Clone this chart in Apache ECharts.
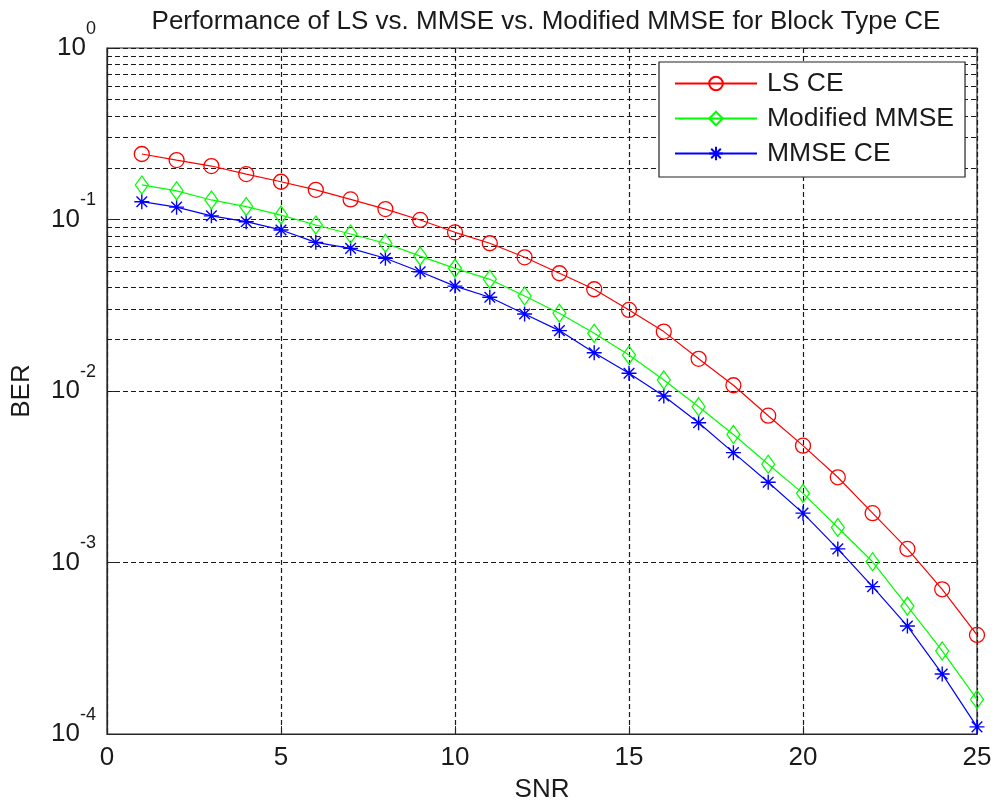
<!DOCTYPE html>
<html>
<head>
<meta charset="utf-8">
<script src="https://cdn.jsdelivr.net/npm/echarts@6/dist/echarts.min.js"></script>
<style>
html,body{margin:0;padding:0;background:#fff;}
#chart{width:995px;height:806px;}
</style>
</head>
<body>
<div id="chart"></div>
<script>
const titleText = 'Performance of LS vs. MMSE vs. Modified MMSE for Block Type CE';
const xName = 'SNR';
const yName = 'BER';
const snr = [1,2,3,4,5,6,7,8,9,10,11,12,13,14,15,16,17,18,19,20,21,22,23,24,25];
const lsCE = [0.241,0.222,0.205,0.184,0.166,0.149,0.131,0.115,0.0994,0.0842,0.0727,0.0602,0.0486,0.0392,0.0297,0.0222,0.0154,0.0108,0.00718,0.00480,0.00314,0.00194,0.00120,0.000698,0.000378];
const modMMSE = [0.159,0.147,0.130,0.119,0.106,0.0929,0.0823,0.0727,0.0612,0.0519,0.0448,0.0358,0.0284,0.0217,0.0162,0.0116,0.00810,0.00558,0.00374,0.00253,0.00160,0.00101,0.000557,0.000305,0.000159];
const mmseCE = [0.127,0.118,0.105,0.0971,0.0869,0.0736,0.0679,0.0594,0.0496,0.0409,0.0352,0.0281,0.0225,0.0167,0.0127,0.00935,0.00653,0.00437,0.00294,0.00194,0.00120,0.000723,0.000426,0.000224,0.000110];
const seriesNames = ['LS CE','Modified MMSE','MMSE CE'];
const yDecadeExponents = [-4,-3,-2,-1,0];
const minorMultipliers = [2,3,4,5,6,7,8,9];

const minorGrid = [];
yDecadeExponents.slice(0,4).forEach(e => minorMultipliers.forEach(m => minorGrid.push(+(m*Math.pow(10,e)).toPrecision(3))));

const asterisk = 'path://M0,-10L0,10M-10,0L10,0M-7.07,-7.07L7.07,7.07M-7.07,7.07L7.07,-7.07';
const gridDash = {color:'#1a1a1a', width:1.2, type:[5,3]};
const font = "'Liberation Sans', Arial, sans-serif";
const txt = '#1a1a1a';

const chart = echarts.init(document.getElementById('chart'), null, {renderer:'canvas'});
chart.setOption({
  backgroundColor:'#fff',
  animation:false,
  title:{text:titleText, left:541, textAlign:'center', top:4,
    textStyle:{fontFamily:font, fontSize:26, fontWeight:'normal', color:txt}},
  grid:{left:107, right:18, top:48, bottom:72, show:true, borderColor:'#262626', borderWidth:1.2, backgroundColor:'#fff',
    containLabel:false, outerBoundsMode:'none'},
  legend:{
    orient:'vertical', left:659, top:62, z:20,
    padding:[8,11,10,15],
    itemWidth:82, itemHeight:17, itemGap:8,
    borderColor:'#222', borderWidth:1.2, backgroundColor:'#fff',
    textStyle:{fontFamily:font, fontSize:26.5, color:txt, lineHeight:27, padding:[0,0,0,5]},
    data:seriesNames
  },
  xAxis:{
    type:'value', min:0, max:25, interval:5,
    name:xName, nameLocation:'middle', nameGap:43,
    nameTextStyle:{fontFamily:font, fontSize:26, color:txt},
    axisLine:{lineStyle:{color:'#262626', width:1.2}},
    axisTick:{inside:true, length:8, lineStyle:{color:'#262626'}},
    axisLabel:{fontFamily:font, fontSize:26, color:txt, margin:11},
    splitLine:{show:true, lineStyle:gridDash}
  },
  yAxis:{
    type:'log', logBase:10, min:1e-4, max:1,
    name:yName, nameLocation:'middle', nameGap:72, nameRotate:90,
    nameTextStyle:{fontFamily:font, fontSize:26, color:txt},
    axisLine:{lineStyle:{color:'#262626', width:1.2}},
    axisTick:{inside:true, length:8, lineStyle:{color:'#262626'}},
    axisLabel:{
      margin:11,
      formatter:function(v){ const e = Math.round(Math.log10(v)); return '{b|10}{s|' + e + '}'; },
      rich:{
        b:{fontFamily:font, fontSize:26, color:txt, lineHeight:56, verticalAlign:'middle'},
        s:{fontFamily:font, fontSize:18, color:txt, lineHeight:20, verticalAlign:'top'}
      }
    },
    splitLine:{show:true, lineStyle:gridDash}
  },
  series:[
    {
      name:seriesNames[0], type:'line', data:snr.map((x,i)=>[x,lsCE[i]]),
      color:'#ff0000',
      symbol:'circle', symbolSize:15,
      lineStyle:{color:'#ff0000', width:1.2},
      itemStyle:{color:'rgba(0,0,0,0)', borderColor:'#ff0000', borderWidth:1.3},
      markLine:{silent:true, symbol:'none', label:{show:false},
        lineStyle:gridDash, emphasis:{disabled:true}, z:1,
        data:minorGrid.map(v=>({yAxis:v}))},
      z:5
    },
    {
      name:seriesNames[1], type:'line', data:snr.map((x,i)=>[x,modMMSE[i]]),
      color:'#00ff00',
      symbol:'diamond', symbolSize:[13,18],
      lineStyle:{color:'#00ff00', width:1.2},
      itemStyle:{color:'rgba(0,0,0,0)', borderColor:'#00ff00', borderWidth:1.3},
      z:4
    },
    {
      name:seriesNames[2], type:'line', data:snr.map((x,i)=>[x,mmseCE[i]]),
      color:'#0000ff',
      symbol:asterisk, symbolSize:15,
      lineStyle:{color:'#0000ff', width:1.2},
      itemStyle:{color:'rgba(0,0,0,0)', borderColor:'#0000ff', borderWidth:1.4},
      z:3
    }
  ]
});
</script>
</body>
</html>
